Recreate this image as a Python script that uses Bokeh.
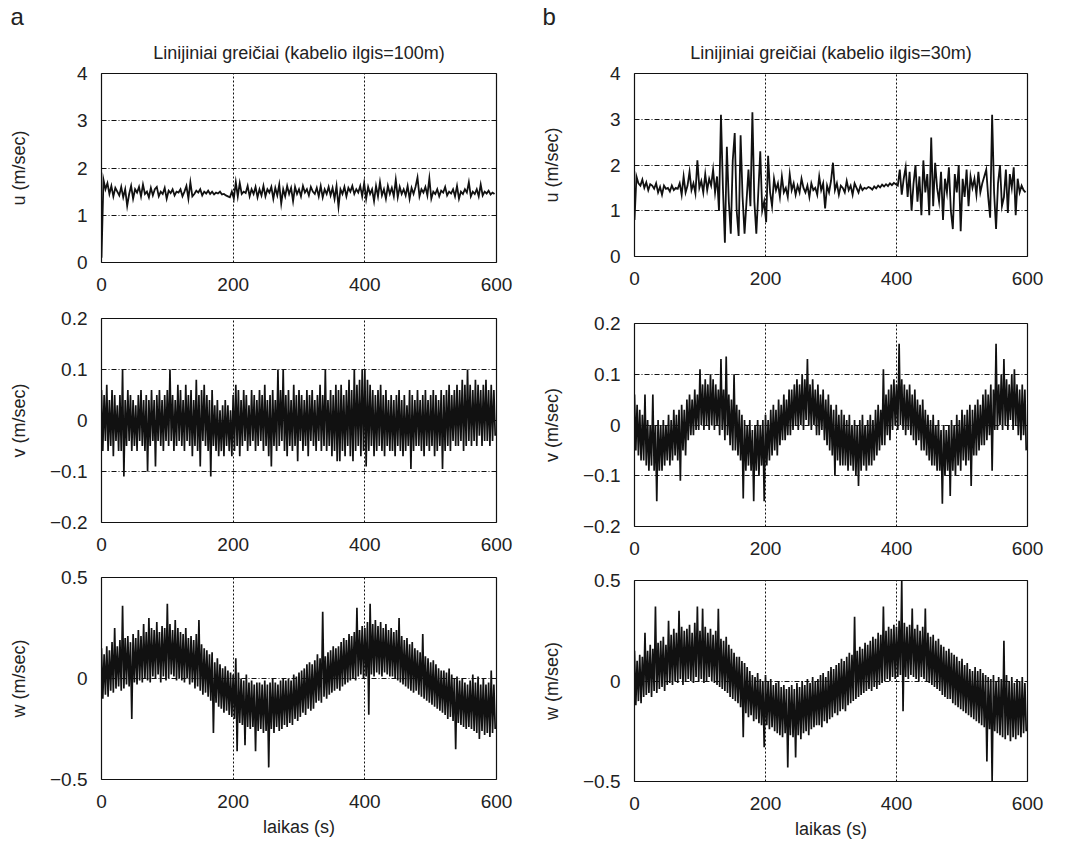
import numpy as np
from bokeh.plotting import figure
from bokeh.models import Range1d, FixedTicker, Title
from bokeh.layouts import row, column
from bokeh.embed import file_html
from bokeh.resources import INLINE

# ---------------- data ----------------
x_ticks = [0, 200, 400, 600]
u_ticks = [0, 1, 2, 3, 4]
v_ticks = [-0.2, -0.1, 0, 0.1, 0.2]
w_ticks = [-0.5, 0, 0.5]
u_labels = {0: "0", 1: "1", 2: "2", 3: "3", 4: "4"}
v_labels = {-0.2: "\u22120.2", -0.1: "\u22120.1", 0: "0", 0.1: "0.1", 0.2: "0.2"}
w_labels = {-0.5: "\u22120.5", 0: "0", 0.5: "0.5"}

u_step = 3.0    # s between u samples
vw_step = 2.0   # s between v / w samples

# panel a (cable 100 m)
u_a = [0.10,1.75,1.55,1.68,1.45,1.62,1.40,1.58,1.50,1.42,1.60,1.38,1.55,1.20,1.45,1.62,1.35,1.55,1.48,1.60,
       1.40,1.65,1.45,1.50,1.38,1.58,1.42,1.55,1.60,1.40,1.50,1.45,1.58,1.35,1.52,1.47,1.55,1.42,1.50,1.48,
       1.55,1.40,1.50,1.62,1.35,1.70,1.40,1.45,1.52,1.48,1.55,1.42,1.50,1.46,1.52,1.45,1.50,1.44,1.48,1.46,
       1.50,1.44,1.45,1.42,1.40,1.38,1.50,1.35,1.70,1.40,1.68,1.45,1.50,1.47,1.62,1.40,1.55,1.45,1.60,1.38,
       1.55,1.42,1.62,1.40,1.55,1.48,1.60,1.35,1.58,1.42,1.65,1.25,1.55,1.40,1.62,1.45,1.58,1.30,1.60,1.45,
       1.55,1.40,1.62,1.48,1.55,1.42,1.60,1.50,1.45,1.58,1.40,1.62,1.38,1.55,1.45,1.60,1.42,1.58,1.35,1.62,
       1.18,1.55,1.45,1.60,1.40,1.58,1.50,1.62,1.45,1.55,1.48,1.62,1.40,1.68,1.35,1.60,1.45,1.55,1.30,1.62,
       1.40,1.70,1.42,1.55,1.35,1.62,1.45,1.58,1.40,1.75,1.38,1.60,1.45,1.55,1.42,1.62,1.35,1.58,1.45,1.60,
       1.80,1.40,1.55,1.48,1.60,1.42,1.78,1.35,1.50,1.45,1.55,1.40,1.52,1.48,1.60,1.42,1.50,1.46,1.55,1.40,
       1.62,1.35,1.50,1.45,1.55,1.48,1.70,1.40,1.50,1.45,1.55,1.40,1.65,1.42,1.50,1.46,1.52,1.44,1.48,1.45]

v_a = [0.06,-0.06,0.05,-0.04,0.07,-0.06,0.04,-0.05,0.06,-0.07,0.05,-0.04,0.03,-0.06,0.05,-0.06,0.10,-0.11,0.04,-0.05,
       0.06,-0.04,0.05,-0.06,0.04,-0.05,0.03,-0.06,0.05,-0.04,0.06,-0.05,0.04,-0.06,0.05,-0.10,0.04,-0.05,0.06,-0.04,
       0.04,-0.09,0.05,-0.04,0.06,-0.05,0.04,-0.06,0.05,-0.04,0.06,-0.05,0.10,-0.04,0.05,-0.06,0.04,-0.05,0.07,-0.04,
       0.06,-0.05,0.04,-0.06,0.07,-0.04,0.05,-0.05,0.06,-0.07,0.04,-0.05,0.08,-0.06,0.05,-0.09,0.06,-0.04,0.07,-0.05,
       0.05,-0.06,0.04,-0.11,0.06,-0.05,0.03,-0.06,0.04,-0.07,0.02,-0.06,0.03,-0.07,0.04,-0.05,0.03,-0.06,0.02,-0.07,
       0.05,-0.06,0.07,-0.05,0.06,-0.07,0.04,-0.05,0.06,-0.04,0.05,-0.06,0.03,-0.05,0.06,-0.04,0.05,-0.06,0.04,-0.05,
       0.06,-0.04,0.05,-0.06,0.07,-0.05,0.04,-0.07,0.05,-0.09,0.06,-0.05,0.04,-0.06,0.10,-0.05,0.06,-0.04,0.10,-0.06,
       0.05,-0.07,0.06,-0.05,0.04,-0.06,0.07,-0.05,0.05,-0.08,0.06,-0.04,0.05,-0.06,0.04,-0.05,0.06,-0.07,0.05,-0.04,
       0.06,-0.05,0.04,-0.06,0.05,-0.04,0.07,-0.06,0.05,-0.05,0.10,-0.06,0.04,-0.05,0.06,-0.07,0.05,-0.06,0.07,-0.08,
       0.06,-0.08,0.07,-0.06,0.05,-0.07,0.06,-0.05,0.08,-0.07,0.06,-0.08,0.10,-0.06,0.07,-0.05,0.08,-0.07,0.10,-0.06,
       0.10,-0.09,0.08,-0.06,0.07,-0.05,0.06,-0.07,0.05,-0.06,0.06,-0.05,0.07,-0.06,0.05,-0.07,0.06,-0.05,0.04,-0.06,
       0.05,-0.06,0.04,-0.07,0.05,-0.05,0.06,-0.06,0.04,-0.07,0.05,-0.06,0.03,-0.05,0.06,-0.095,0.05,-0.06,0.04,-0.05,
       0.06,-0.05,0.04,-0.06,0.05,-0.07,0.06,-0.05,0.04,-0.06,0.05,-0.05,0.06,-0.07,0.05,-0.06,0.04,-0.05,0.06,-0.095,
       0.05,-0.06,0.06,-0.05,0.07,-0.06,0.05,-0.04,0.06,-0.05,0.07,-0.05,0.06,-0.04,0.08,-0.06,0.07,-0.05,0.10,-0.04,
       0.07,-0.05,0.06,-0.04,0.08,-0.05,0.07,-0.03,0.06,-0.05,0.07,-0.04,0.08,-0.04,0.06,-0.05,0.07,-0.04,0.06,-0.03]

w_a = [0.15,-0.10,0.12,-0.08,0.16,-0.09,0.14,-0.06,0.18,-0.07,0.25,-0.05,0.16,-0.04,0.19,-0.06,0.36,-0.05,0.20,-0.03,
       0.21,-0.04,0.18,-0.20,0.22,-0.02,0.20,-0.03,0.24,-0.01,0.21,-0.02,0.27,0.00,0.23,-0.01,0.30,-0.02,0.25,0.01,
       0.24,0.00,0.28,0.02,0.23,-0.02,0.26,0.01,0.25,-0.01,0.37,0.00,0.27,0.02,0.24,0.01,0.29,-0.01,0.25,0.00,
       0.23,-0.01,0.22,-0.02,0.25,0.00,0.20,-0.03,0.21,-0.02,0.19,-0.05,0.22,-0.04,0.29,-0.06,0.17,-0.08,0.15,-0.07,
       0.14,-0.09,0.12,-0.11,0.13,-0.27,0.08,-0.12,0.10,-0.14,0.07,-0.15,0.05,-0.17,0.06,-0.16,0.04,-0.18,0.03,-0.19,
       0.02,-0.20,0.10,-0.36,0.03,-0.22,0.00,-0.23,-0.01,-0.33,0.02,-0.24,-0.02,-0.25,-0.01,-0.24,-0.03,-0.36,-0.02,-0.26,
       -0.02,-0.25,-0.03,-0.27,-0.01,-0.26,-0.03,-0.44,-0.02,-0.25,0.00,-0.27,-0.02,-0.24,-0.03,-0.26,-0.01,-0.25,0.00,-0.23,
       -0.01,-0.24,0.00,-0.22,-0.01,-0.23,0.02,-0.20,0.01,-0.21,0.03,-0.19,0.04,-0.17,0.05,-0.18,0.07,-0.15,0.08,-0.16,
       0.07,-0.15,0.09,-0.12,0.12,-0.11,0.10,-0.12,0.33,-0.09,0.11,-0.10,0.13,-0.08,0.14,-0.07,0.16,-0.06,0.15,-0.05,
       0.16,-0.06,0.18,-0.04,0.20,-0.03,0.19,-0.02,0.22,-0.01,0.21,0.00,0.23,-0.01,0.35,0.01,0.24,0.02,0.26,0.00,
       0.25,0.01,0.28,-0.18,0.37,0.02,0.27,0.01,0.29,0.03,0.26,0.02,0.28,0.01,0.25,0.03,0.27,0.02,0.24,0.01,
       0.25,0.01,0.23,0.00,0.24,-0.01,0.30,-0.02,0.21,-0.03,0.19,-0.04,0.20,-0.05,0.17,-0.06,0.18,-0.07,0.15,-0.06,
       0.14,-0.08,0.13,-0.09,0.22,-0.10,0.11,-0.11,0.10,-0.12,0.08,-0.13,0.09,-0.14,0.07,-0.15,0.05,-0.16,0.04,-0.17,
       0.04,-0.18,0.03,-0.20,0.05,-0.19,0.02,-0.21,0.00,-0.35,0.01,-0.22,-0.01,-0.23,0.00,-0.24,-0.02,-0.25,-0.03,-0.24,
       -0.01,-0.25,0.02,-0.26,-0.02,-0.27,0.01,-0.30,-0.03,-0.26,0.00,-0.28,-0.03,-0.27,-0.02,-0.29,0.04,-0.27,-0.03,-0.25]

# panel b (cable 30 m)
u_b = [0.80,1.75,1.60,1.55,1.68,1.50,1.62,1.45,1.58,1.55,1.48,1.60,1.40,1.52,1.35,1.55,1.48,1.50,1.42,1.55,
       1.45,1.50,1.48,1.60,1.35,1.75,1.40,1.55,1.85,1.45,1.60,1.38,2.10,1.50,1.65,1.40,1.80,1.45,1.70,1.55,
       1.90,1.40,1.75,1.00,3.10,1.50,0.30,2.40,1.20,0.50,2.10,2.70,1.00,0.45,2.65,1.30,0.50,1.20,1.90,1.10,
       3.15,1.20,0.50,1.40,2.30,1.00,1.20,0.75,2.20,1.40,1.10,1.70,1.45,1.60,1.30,1.75,1.40,1.50,1.30,1.80,
       1.45,1.60,1.35,1.55,1.40,1.70,1.50,1.40,1.55,1.30,1.60,1.45,1.50,1.35,1.75,1.45,1.60,1.05,1.55,1.40,
       1.65,2.05,1.45,1.60,1.35,1.55,1.50,1.40,1.65,1.45,1.55,1.35,1.60,1.50,1.40,1.55,1.45,1.50,1.48,1.52,
       1.50,1.46,1.53,1.49,1.55,1.51,1.57,1.53,1.58,1.54,1.60,1.56,1.61,1.58,1.55,1.90,1.35,1.70,1.95,1.30,
       1.85,1.00,1.60,2.00,1.20,1.75,0.90,2.10,1.40,1.80,0.90,2.60,1.10,2.05,1.50,1.20,1.85,0.80,1.70,1.40,
       1.95,1.00,0.60,1.80,1.40,2.00,0.55,1.70,1.30,1.90,1.10,1.75,1.50,1.70,1.35,1.85,1.40,1.60,1.75,1.90,
       1.30,0.85,3.10,1.40,0.60,1.60,2.00,1.10,1.30,1.90,0.95,1.80,1.50,1.95,0.90,1.70,1.40,1.55,1.45,1.40]

v_b = [0.06,-0.05,0.04,-0.06,0.03,-0.07,0.02,-0.07,0.06,-0.08,0.01,-0.09,0.00,-0.08,0.06,-0.09,0.00,-0.15,0.01,-0.09,
       0.00,-0.09,0.01,-0.08,0.00,-0.07,0.02,-0.08,0.01,-0.07,0.03,-0.06,0.02,-0.07,0.03,-0.11,0.04,-0.05,0.03,-0.06,
       0.05,-0.03,0.06,-0.02,0.05,-0.02,0.07,-0.01,0.06,-0.01,0.11,0.00,0.08,-0.01,0.09,0.00,0.08,-0.01,0.10,0.00,
       0.09,-0.01,0.08,0.00,0.07,-0.02,0.13,-0.01,0.07,-0.03,0.135,-0.02,0.06,-0.04,0.05,-0.05,0.10,-0.05,0.04,-0.06,
       0.03,-0.07,0.02,-0.145,0.01,-0.09,0.00,-0.08,0.01,-0.09,-0.01,-0.15,0.00,-0.09,0.01,-0.10,0.00,-0.08,0.01,-0.15,
       0.02,-0.08,0.01,-0.07,0.03,-0.06,0.04,-0.05,0.03,-0.06,0.05,-0.04,0.04,-0.03,0.06,-0.03,0.05,-0.02,0.07,-0.02,
       0.07,-0.01,0.08,0.00,0.09,-0.01,0.08,0.00,0.10,-0.01,0.09,0.01,0.13,0.00,0.08,-0.01,0.09,0.00,0.07,-0.02,
       0.08,-0.02,0.06,-0.01,0.07,-0.03,0.05,-0.04,0.06,-0.05,0.04,-0.06,0.03,-0.10,0.04,-0.07,0.02,-0.08,0.03,-0.08,
       0.02,-0.08,0.01,-0.09,0.02,-0.08,0.00,-0.09,0.01,-0.10,0.00,-0.12,0.01,-0.09,0.02,-0.08,0.00,-0.09,0.01,-0.08,
       0.02,-0.08,0.01,-0.07,0.03,-0.06,0.04,-0.05,0.03,-0.04,0.11,-0.04,0.06,-0.02,0.07,-0.03,0.08,-0.01,0.09,0.00,
       0.08,-0.01,0.16,0.00,0.09,-0.01,0.08,-0.02,0.07,-0.01,0.08,-0.02,0.06,-0.03,0.07,-0.04,0.05,-0.03,0.04,-0.05,
       0.05,-0.05,0.03,-0.06,0.02,-0.07,0.01,-0.08,0.02,-0.08,0.00,-0.09,0.01,-0.09,-0.01,-0.155,0.00,-0.10,-0.01,-0.09,
       0.00,-0.14,0.01,-0.09,0.00,-0.10,0.02,-0.08,0.01,-0.09,0.03,-0.07,0.02,-0.08,0.03,-0.07,0.04,-0.12,0.03,-0.06,
       0.04,-0.06,0.05,-0.05,0.04,-0.04,0.06,-0.04,0.07,-0.03,0.06,-0.02,0.08,-0.09,0.07,-0.01,0.16,-0.01,0.08,0.00,
       0.10,-0.01,0.13,0.00,0.09,-0.01,0.08,0.01,0.10,-0.01,0.11,0.00,0.08,-0.02,0.07,-0.03,0.08,-0.02,0.07,-0.05]

w_b = [0.15,-0.12,0.10,-0.10,0.13,-0.11,0.12,-0.08,0.24,-0.07,0.15,-0.06,0.18,-0.08,0.16,-0.05,0.37,-0.06,0.19,-0.04,
       0.20,-0.03,0.22,-0.05,0.18,-0.02,0.30,-0.01,0.23,-0.02,0.26,0.00,0.24,-0.01,0.35,0.01,0.27,-0.02,0.25,0.00,
       0.26,0.01,0.28,0.00,0.24,-0.01,0.29,0.02,0.37,0.00,0.25,0.01,0.36,-0.01,0.27,0.00,0.24,0.02,0.26,0.00,
       0.23,-0.01,0.25,-0.02,0.36,-0.03,0.21,-0.04,0.20,-0.05,0.22,-0.06,0.18,-0.08,0.16,-0.09,0.14,-0.10,0.12,-0.11,
       0.12,-0.13,0.10,-0.28,0.09,-0.16,0.07,-0.18,0.05,-0.17,0.03,-0.20,0.02,-0.19,0.04,-0.21,0.01,-0.22,0.00,-0.33,
       0.03,-0.22,0.00,-0.24,0.01,-0.23,-0.02,-0.25,-0.01,-0.26,0.00,-0.27,-0.03,-0.28,-0.02,-0.26,-0.04,-0.43,-0.03,-0.27,
       -0.02,-0.28,-0.04,-0.38,-0.01,-0.27,-0.03,-0.29,0.00,-0.26,-0.02,-0.25,0.01,-0.27,-0.01,-0.24,0.02,-0.23,0.00,-0.22,
       0.01,-0.22,0.03,-0.23,0.04,-0.20,0.02,-0.21,0.05,-0.19,0.07,-0.18,0.06,-0.16,0.08,-0.17,0.09,-0.15,0.11,-0.14,
       0.10,-0.15,0.12,-0.12,0.14,-0.11,0.13,-0.10,0.32,-0.09,0.15,-0.08,0.17,-0.07,0.16,-0.06,0.19,-0.05,0.18,-0.04,
       0.20,-0.05,0.22,-0.03,0.21,-0.04,0.24,-0.02,0.23,-0.01,0.37,0.00,0.25,0.01,0.27,0.00,0.26,0.02,0.28,0.01,
       0.27,0.02,0.30,0.03,0.50,-0.15,0.29,0.02,0.27,0.01,0.28,0.03,0.36,0.02,0.26,0.01,0.28,0.00,0.25,0.02,
       0.27,0.01,0.36,0.00,0.24,-0.01,0.22,-0.02,0.23,-0.03,0.20,-0.04,0.21,-0.05,0.18,-0.07,0.17,-0.08,0.15,-0.09,
       0.16,-0.09,0.14,-0.11,0.13,-0.12,0.12,-0.13,0.10,-0.14,0.11,-0.15,0.08,-0.16,0.09,-0.17,0.06,-0.18,0.05,-0.19,
       0.07,-0.20,0.05,-0.21,0.06,-0.22,0.04,-0.23,0.03,-0.40,0.02,-0.24,0.01,-0.50,0.03,-0.25,0.00,-0.26,0.02,-0.27,
       0.01,-0.28,0.20,-0.29,0.03,-0.27,0.00,-0.30,0.02,-0.28,-0.01,-0.29,0.01,-0.27,0.00,-0.28,0.02,-0.26,-0.01,-0.25]

title_a = "Linijiniai grei\u010diai (kabelio ilgis=100m)"
title_b = "Linijiniai grei\u010diai (kabelio ilgis=30m)"
ylab_u = "u (m/sec)"
ylab_v = "v (m/sec)"
ylab_w = "w (m/sec)"
xlab = "laikas (s)"

FONT = "Liberation Sans"
TXT = "#222222"


def panel(values, step, yr, yticks, ylabels, ylabel, width, height,
          left, right, top, bottom, ylab_standoff, lw,
          xlabel=None, title=None, letter=None, letter_offset=0):
    t = np.arange(len(values)) * step
    p = figure(width=width, height=height, output_backend="svg",
               toolbar_location=None, x_range=Range1d(0, 600),
               y_range=Range1d(*yr), min_border_left=left,
               min_border_right=right, min_border_top=top,
               min_border_bottom=bottom, background_fill_color="white",
               border_fill_color="white", outline_line_color="#111111",
               outline_line_width=1.2)
    p.line(t, values, line_color="#111111", line_width=lw,
           line_join="miter")
    for ax in (p.xaxis[0], p.yaxis[0]):
        ax.axis_line_color = None
        ax.major_tick_line_color = None
        ax.minor_tick_line_color = None
        ax.major_tick_out = 0
        ax.major_tick_in = 0
        ax.minor_tick_out = 0
        ax.minor_tick_in = 0
        ax.major_label_text_font = FONT
        ax.major_label_text_font_size = "19px"
        ax.major_label_text_color = TXT
        ax.axis_label_text_font = FONT
        ax.axis_label_text_font_size = "18px"
        ax.axis_label_text_font_style = "normal"
        ax.axis_label_text_color = TXT
    p.xaxis.ticker = FixedTicker(ticks=x_ticks)
    p.xaxis.major_label_standoff = 15
    p.yaxis.ticker = FixedTicker(ticks=yticks)
    p.yaxis.major_label_overrides = ylabels
    p.yaxis.major_label_standoff = 14
    p.yaxis.axis_label = ylabel
    p.yaxis.axis_label_standoff = ylab_standoff
    if xlabel:
        p.xaxis.axis_label = xlabel
        p.xaxis.axis_label_standoff = 6
    p.xgrid.ticker = FixedTicker(ticks=[200, 400])
    p.xgrid.grid_line_color = "#111111"
    p.xgrid.grid_line_dash = "2 2"
    p.xgrid.grid_line_width = 1
    p.ygrid.ticker = FixedTicker(ticks=yticks[1:-1])
    p.ygrid.grid_line_color = "#111111"
    p.ygrid.grid_line_dash = "5 2 1 2"
    p.ygrid.grid_line_width = 1
    if title:
        p.add_layout(Title(text=title, align="center", text_font=FONT,
                           text_font_size="18px", text_font_style="normal",
                           text_color=TXT, standoff=22), "above")
    if letter:
        p.add_layout(Title(text=letter, align="left", offset=letter_offset,
                           text_font=FONT, text_font_size="24px",
                           text_font_style="normal", text_color=TXT,
                           standoff=0), "above")
    return p


SO_U = 45   # y-label standoff next to one-digit tick labels
SO_VW = 18  # y-label standoff next to "-0.2" style tick labels

a1 = panel(u_a, u_step, (0, 4), u_ticks, u_labels, ylab_u, 530, 296, 101, 34, 71, 34, SO_U, 1.8,
           title=title_a, letter="a", letter_offset=-91)
a2 = panel(v_a, vw_step, (-0.2, 0.2), v_ticks, v_labels, ylab_v, 530, 260, 101, 34, 22, 34, SO_VW, 1.7)
a3 = panel(w_a, vw_step, (-0.5, 0.5), w_ticks, w_labels, ylab_w, 530, 289, 101, 34, 21, 66, SO_VW, 1.7,
           xlabel=xlab)

b1 = panel(u_b, u_step, (0, 4), u_ticks, u_labels, ylab_u, 544, 290, 104, 47, 69, 34, SO_U, 1.8,
           title=title_b, letter="b", letter_offset=-92)
b2 = panel(v_b, vw_step, (-0.2, 0.2), v_ticks, v_labels, ylab_v, 544, 270, 104, 47, 33, 34, SO_VW, 1.7)
b3 = panel(w_b, vw_step, (-0.5, 0.5), w_ticks, w_labels, ylab_w, 544, 285, 104, 47, 20, 64, SO_VW, 1.7,
           xlabel=xlab)

layout = row(column(a1, a2, a3, spacing=0), column(b1, b2, b3, spacing=0), spacing=0)

open("out.html", "w").write(file_html(layout, INLINE))
